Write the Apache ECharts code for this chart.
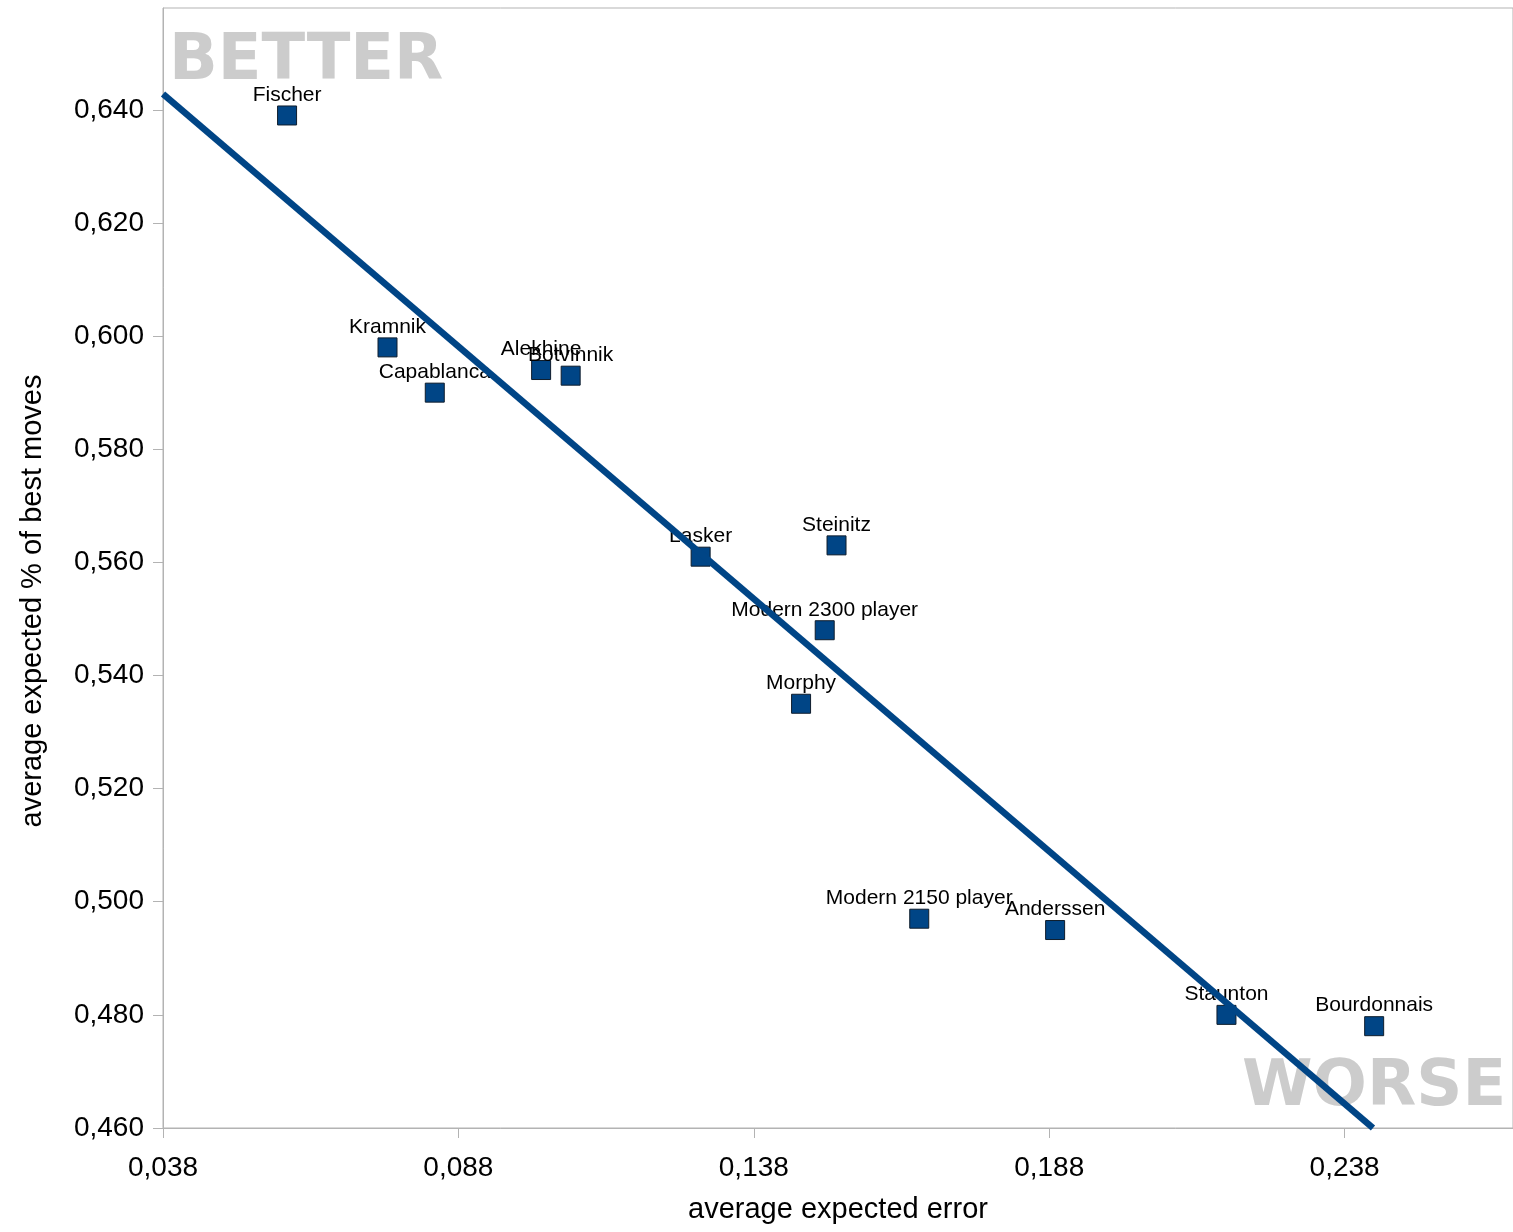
<!DOCTYPE html>
<html>
<head>
<meta charset="utf-8">
<script src="https://cdn.jsdelivr.net/npm/echarts@6/dist/echarts.min.js"></script>
<style>
html,body{margin:0;padding:0;background:#fff;}
#chart{width:1513px;height:1232px;}
</style>
</head>
<body>
<div id="chart"></div>
<script>
var players = ["Fischer","Kramnik","Capablanca","Alekhine","Botvinnik","Lasker","Steinitz","Modern 2300 player","Morphy","Modern 2150 player","Anderssen","Staunton","Bourdonnais"];
var avgError = [0.059,0.076,0.084,0.102,0.107,0.129,0.152,0.150,0.146,0.166,0.189,0.218,0.243];
var bestMoves = [0.639,0.598,0.590,0.594,0.593,0.561,0.563,0.548,0.535,0.497,0.495,0.480,0.478];
var trendX = [0.038,0.2428];
var trendY = [0.6428,0.460];
var xTicks = [0.038,0.088,0.138,0.188,0.238];
var yTicks = [0.460,0.480,0.500,0.520,0.540,0.560,0.580,0.600,0.620,0.640];

function fmt(v){ return v.toFixed(3).replace('.', ','); }

var chart = echarts.init(document.getElementById('chart'), null, {renderer:'canvas'});
var axisColor = '#b3b3b3';
var labelFont = '"Liberation Sans", Arial, sans-serif';

chart.setOption({
  animation: false,
  backgroundColor: '#ffffff',
  grid: {left:163, top:8, width:1350, height:1120, show:true, borderColor:axisColor, borderWidth:1, containLabel:false},
  xAxis: {
    type:'value', min:0.038, max:0.2665,
    name:'average expected error', nameLocation:'middle', nameGap:67,
    nameTextStyle:{fontFamily:labelFont, fontSize:29, color:'#000'},
    axisLine:{show:true, lineStyle:{color:axisColor, width:1}},
    axisTick:{show:true, length:10, lineStyle:{color:axisColor}, customValues:xTicks},
    axisLabel:{fontFamily:labelFont, fontSize:28, color:'#000', margin:26, customValues:xTicks, formatter:fmt},
    splitLine:{show:false}
  },
  yAxis: {
    type:'value', min:0.460, max:0.658,
    name:'average expected % of best moves', nameLocation:'middle', nameGap:116,
    nameTextStyle:{fontFamily:labelFont, fontSize:29, color:'#000', padding:[0,66,0,0]},
    axisLine:{show:true, lineStyle:{color:axisColor, width:1}},
    axisTick:{show:true, length:10, lineStyle:{color:axisColor}, customValues:yTicks},
    axisLabel:{fontFamily:labelFont, fontSize:28, color:'#000', margin:19, padding:[5,0,0,0], customValues:yTicks, formatter:fmt},
    splitLine:{show:false}
  },
  series: [
    {
      type:'scatter', z:2, symbol:'rect', symbolSize:19,
      data: players.map(function(n,i){ return {name:n, value:[avgError[i], bestMoves[i]]}; }),
      itemStyle:{color:'#004586', borderColor:'#0f1d2c', borderWidth:1, opacity:1},
      label:{show:true, position:'top', distance:0, formatter:'{b}', fontFamily:labelFont, fontSize:21, color:'#000', opacity:1},
      emphasis:{disabled:true}
    },
    {
      type:'line', z:3, symbol:'none', silent:true,
      data: trendX.map(function(x,i){ return [x, trendY[i]]; }),
      lineStyle:{color:'#004586', width:6.5, opacity:1},
      emphasis:{disabled:true}
    }
  ],
  graphic: [
    {type:'text', z:1, silent:true, position:[169,62], style:{text:'BETTER', font:'bold 64px "DejaVu Sans"', fill:'#cccccc', verticalAlign:'middle', align:'left'}},
    {type:'text', z:1, silent:true, position:[1242,1088], style:{text:'WORSE', font:'bold 64px "DejaVu Sans"', fill:'#cccccc', verticalAlign:'middle', align:'left'}}
  ]
});
</script>
</body>
</html>
